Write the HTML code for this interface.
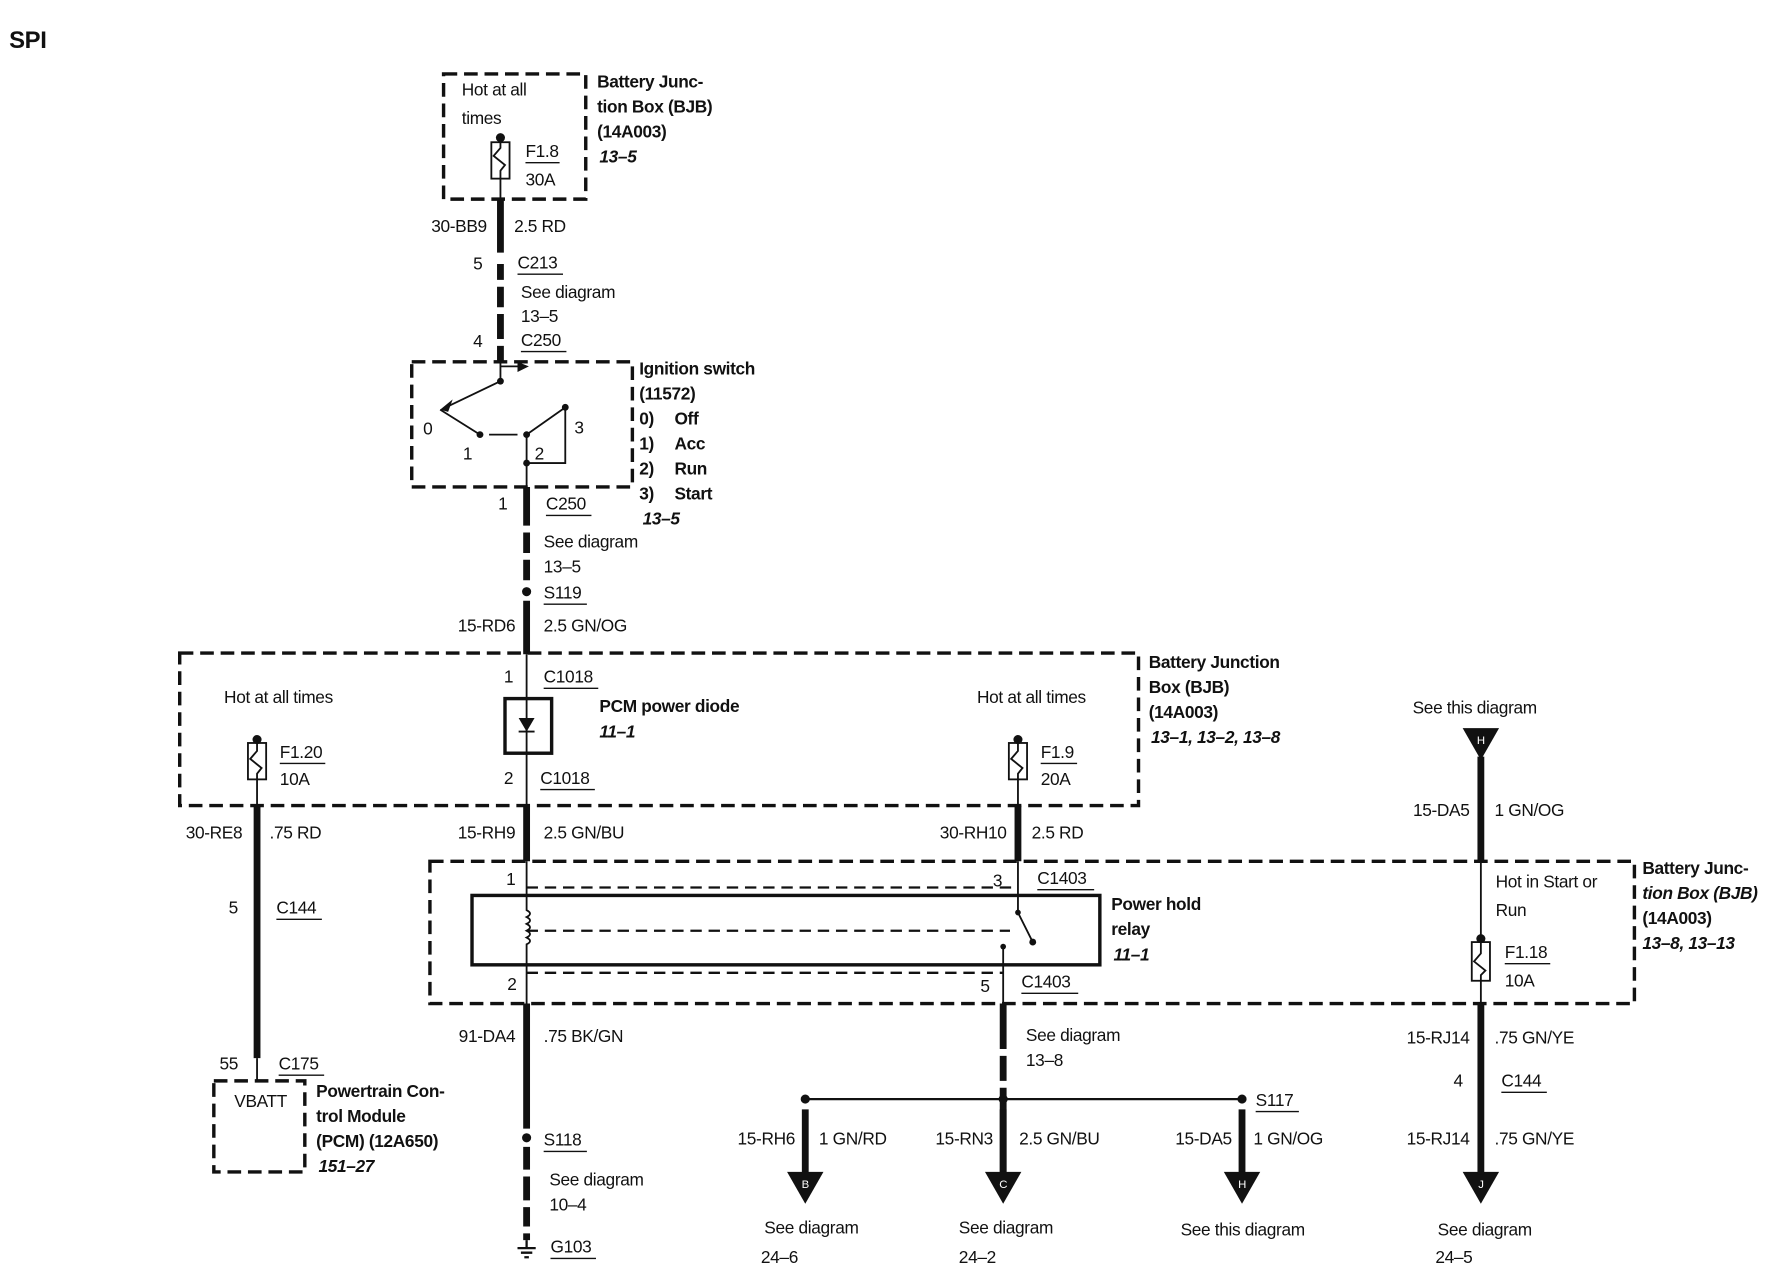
<!DOCTYPE html>
<html><head><meta charset="utf-8"><style>
html,body{margin:0;padding:0;background:#fff;}
svg{display:block;}
text{font-family:"Liberation Sans",sans-serif;font-size:15.2px;fill:#111;letter-spacing:-0.3px;}
.b{font-weight:bold;}
.i{font-weight:bold;font-style:italic;}
.r{text-anchor:end;}
.d{fill:none;stroke:#111;stroke-width:3;stroke-dasharray:12,6;}
.t{stroke:#111;stroke-width:6;fill:none;}
.n{stroke:#111;stroke-width:1.6;fill:none;}
.u{stroke:#111;stroke-width:1.2;}
</style></head><body>
<svg width="1780" height="1280" viewBox="0 0 1565 1125" preserveAspectRatio="none" xmlns="http://www.w3.org/2000/svg">
<rect width="1565" height="1125" fill="#fff"/>
<text x="8" y="42" class="b" style="font-size:21px">SPI</text>

<!-- BJB top -->
<rect x="390" y="65" width="125" height="110" class="d"/>
<text x="406" y="84">Hot at all</text><text x="406" y="109">times</text>
<circle cx="440" cy="121" r="4" fill="#111"/>
<rect x="432" y="125" width="16" height="32" class="n"/>
<path d="M440 121 V130 L434 137 L444 145 L440 150 V175" class="n"/>
<text x="462" y="138">F1.8</text><line x1="462" y1="143" x2="492" y2="143" class="u"/>
<text x="462" y="163">30A</text>
<text x="525" y="77" class="b">Battery Junc-</text><text x="525" y="99" class="b">tion Box (BJB)</text>
<text x="525" y="121" class="b">(14A003)</text><text x="527" y="143" class="i">13–5</text>

<path d="M440 175 V222 M440 232 V246 M440 252 V270 M440 276 V298 M440 304 V318" class="t"/>
<text x="428" y="204" class="r">30-BB9</text><text x="452" y="204">2.5 RD</text>
<text x="416" y="237">5</text><text x="455" y="236">C213</text><line x1="455" y1="241" x2="495" y2="241" class="u"/>
<text x="458" y="262">See diagram</text><text x="458" y="283">13–5</text>
<text x="416" y="305">4</text><text x="458" y="304">C250</text><line x1="458" y1="309" x2="498" y2="309" class="u"/>

<!-- Ignition switch -->
<rect x="362" y="318" width="194" height="110" class="d"/>
<g fill="#111">
<circle cx="440" cy="335" r="3"/><circle cx="422" cy="382" r="3"/><circle cx="463" cy="382" r="3"/><circle cx="497" cy="358" r="3"/><circle cx="463" cy="407" r="3"/>
<path d="M455 318 L465 322 L455 327Z"/><path d="M387 360 L398 351 L394 362Z"/>
</g>
<path d="M440 322 H458 M440 318 V335 L390 359 M387 360 L422 382 M430 382 H455 M463 382 L497 358 V407 H463 M463 382 V428" class="n"/>
<text x="372" y="382">0</text><text x="407" y="404">1</text><text x="470" y="404">2</text><text x="505" y="381">3</text>
<text x="562" y="329" class="b">Ignition switch</text><text x="562" y="351" class="b">(11572)</text>
<text x="562" y="373" class="b">0)</text><text x="593" y="373" class="b">Off</text>
<text x="562" y="395" class="b">1)</text><text x="593" y="395" class="b">Acc</text>
<text x="562" y="417" class="b">2)</text><text x="593" y="417" class="b">Run</text>
<text x="562" y="439" class="b">3)</text><text x="593" y="439" class="b">Start</text>
<text x="565" y="461" class="i">13–5</text>

<path d="M463 428 V462 M463 468 V486 M463 492 V510 M463 528 V575" class="t"/>
<circle cx="463" cy="520" r="4" fill="#111"/>
<text x="438" y="448">1</text><text x="480" y="448">C250</text><line x1="480" y1="453" x2="520" y2="453" class="u"/>
<text x="478" y="481">See diagram</text><text x="478" y="503">13–5</text>
<text x="478" y="526">S119</text><line x1="478" y1="531" x2="516" y2="531" class="u"/>
<text x="453" y="555" class="r">15-RD6</text><text x="478" y="555">2.5 GN/OG</text>

<!-- BJB middle -->
<rect x="158" y="574" width="843" height="134" class="d"/>
<text x="197" y="618">Hot at all times</text>
<circle cx="226" cy="650" r="4" fill="#111"/>
<rect x="218" y="653" width="16" height="32" class="n"/>
<path d="M226 650 V660 L220 667 L230 675 L226 680 V708" class="n"/>
<text x="246" y="666">F1.20</text><line x1="246" y1="671" x2="286" y2="671" class="u"/><text x="246" y="690">10A</text>
<path d="M463 575 V708" class="n"/>
<rect x="444" y="614" width="41" height="48" style="fill:none;stroke:#111;stroke-width:3"/>
<path d="M456 631 H470 L463 643Z" fill="#111"/><line x1="456" y1="643" x2="470" y2="643" class="n"/>
<text x="443" y="600">1</text><text x="478" y="600">C1018</text><line x1="478" y1="605" x2="526" y2="605" class="u"/>
<text x="443" y="689">2</text><text x="475" y="689">C1018</text><line x1="475" y1="694" x2="523" y2="694" class="u"/>
<text x="527" y="626" class="b">PCM power diode</text><text x="527" y="648" class="i">11–1</text>
<text x="859" y="618">Hot at all times</text>
<circle cx="895" cy="650" r="4" fill="#111"/>
<rect x="887" y="653" width="16" height="32" class="n"/>
<path d="M895 650 V660 L889 667 L899 675 L895 680 V708" class="n"/>
<text x="915" y="666">F1.9</text><line x1="915" y1="671" x2="947" y2="671" class="u"/><text x="915" y="690">20A</text>
<text x="1010" y="587" class="b">Battery Junction</text><text x="1010" y="609" class="b">Box (BJB)</text>
<text x="1010" y="631" class="b">(14A003)</text><text x="1012" y="653" class="i">13–1, 13–2, 13–8</text>

<!-- left PCM wire -->
<path d="M226 708 V930" class="t"/>
<text x="213" y="737" class="r">30-RE8</text><text x="237" y="737">.75 RD</text>
<text x="201" y="803">5</text><text x="243" y="803">C144</text><line x1="243" y1="808" x2="283" y2="808" class="u"/>
<text x="193" y="940">55</text><text x="245" y="940">C175</text><line x1="245" y1="945" x2="285" y2="945" class="u"/>
<path d="M226 930 V950" class="n"/>
<rect x="188" y="950" width="80" height="80" class="d"/>
<text x="206" y="973">VBATT</text>
<text x="278" y="964" class="b">Powertrain Con-</text><text x="278" y="986" class="b">trol Module</text>
<text x="278" y="1008" class="b">(PCM) (12A650)</text><text x="280" y="1030" class="i">151–27</text>

<!-- wires into relay box -->
<path d="M463 708 V757" class="t"/>
<text x="453" y="737" class="r">15-RH9</text><text x="478" y="737">2.5 GN/BU</text>
<path d="M895 708 V757" class="t"/>
<text x="885" y="737" class="r">30-RH10</text><text x="907" y="737">2.5 RD</text>

<!-- relay box -->
<rect x="378" y="757" width="1059" height="125" class="d"/>
<rect x="415" y="787" width="552" height="61" style="fill:none;stroke:#111;stroke-width:3"/>
<path d="M463 780 H895 M463 855 H882" style="stroke:#111;stroke-width:2;stroke-dasharray:10,6"/>
<path d="M463 818 H888" style="stroke:#111;stroke-width:2;stroke-dasharray:10,6"/>
<path d="M463 757 V800 q6 3 0 6 q6 3 0 6 q6 3 0 6 q6 3 0 6 q6 3 0 6 V882" class="n"/>
<path d="M895 757 V802 L908 828" class="n"/>
<circle cx="895" cy="802" r="2.5" fill="#111"/><circle cx="908" cy="828" r="3" fill="#111"/>
<circle cx="882" cy="832" r="2.5" fill="#111"/><path d="M882 832 V882" class="n"/>
<text x="445" y="778">1</text><text x="446" y="870">2</text>
<text x="873" y="779">3</text><text x="912" y="777">C1403</text><line x1="912" y1="782" x2="962" y2="782" class="u"/>
<text x="862" y="872">5</text><text x="898" y="868">C1403</text><line x1="898" y1="873" x2="948" y2="873" class="u"/>
<text x="977" y="800" class="b">Power hold</text><text x="977" y="822" class="b">relay</text><text x="979" y="844" class="i">11–1</text>

<!-- ground wire -->
<path d="M463 882 V992 M463 1008 V1028 M463 1034 V1055 M463 1061 V1078 M463 1084 V1090" class="t"/>
<circle cx="463" cy="1000" r="4" fill="#111"/>
<path d="M463 1090 V1097 M455 1097 H471 M458 1101 H468 M461 1105 H465" class="n" style="stroke-width:2"/>
<text x="453" y="916" class="r">91-DA4</text><text x="478" y="916">.75 BK/GN</text>
<text x="478" y="1007">S118</text><line x1="478" y1="1012" x2="516" y2="1012" class="u"/>
<text x="483" y="1042">See diagram</text><text x="483" y="1064">10–4</text>
<text x="484" y="1101">G103</text><line x1="484" y1="1106" x2="524" y2="1106" class="u"/>

<!-- C branch -->
<path d="M882 882 V922 M882 928 V950 M882 956 V1032" class="t"/>
<path d="M882 975 V1032" class="t"/>
<text x="902" y="915">See diagram</text><text x="902" y="937">13–8</text>
<path d="M708 966 H1092" style="stroke:#111;stroke-width:2"/>
<circle cx="708" cy="966" r="4" fill="#111"/><circle cx="882" cy="966" r="4" fill="#111"/><circle cx="1092" cy="966" r="4" fill="#111"/>
<text x="1104" y="972">S117</text><line x1="1104" y1="977" x2="1142" y2="977" class="u"/>
<path d="M708 975 V1032 M1092 975 V1032" class="t"/>
<g fill="#111">
<path d="M692 1030 H724 L708 1058Z"/><path d="M866 1030 H898 L882 1058Z"/><path d="M1076 1030 H1108 L1092 1058Z"/>
<path d="M1286 1030 H1318 L1302 1058Z"/><path d="M1286 640 H1318 L1302 668Z"/>
</g>
<g text-anchor="middle">
<text x="708" y="1044" style="fill:#fff;font-size:10px">B</text>
<text x="882" y="1044" style="fill:#fff;font-size:10px">C</text>
<text x="1092" y="1044" style="fill:#fff;font-size:10px">H</text>
<text x="1302" y="1044" style="fill:#fff;font-size:10px">J</text>
<text x="1302" y="654" style="fill:#fff;font-size:10px">H</text>
</g>
<text x="699" y="1006" class="r">15-RH6</text><text x="720" y="1006">1 GN/RD</text>
<text x="873" y="1006" class="r">15-RN3</text><text x="896" y="1006">2.5 GN/BU</text>
<text x="1083" y="1006" class="r">15-DA5</text><text x="1102" y="1006">1 GN/OG</text>
<text x="672" y="1084">See diagram</text><text x="669" y="1110">24–6</text>
<text x="843" y="1084">See diagram</text><text x="843" y="1110">24–2</text>
<text x="1038" y="1086">See this diagram</text>
<text x="1264" y="1086">See diagram</text><text x="1262" y="1110">24–5</text>

<!-- right column -->
<text x="1242" y="627">See this diagram</text>
<path d="M1302 665 V757" class="t"/>
<text x="1292" y="717" class="r">15-DA5</text><text x="1314" y="717">1 GN/OG</text>
<path d="M1302 757 V882" class="n"/>
<circle cx="1302" cy="825" r="4" fill="#111"/>
<rect x="1294" y="828" width="16" height="34" style="fill:#fff;stroke:#111;stroke-width:1.6"/>
<path d="M1302 828 V838 L1296 845 L1306 853 L1302 857 V862" class="n"/>
<text x="1315" y="780">Hot in Start or</text><text x="1315" y="805">Run</text>
<text x="1323" y="842">F1.18</text><line x1="1323" y1="847" x2="1363" y2="847" class="u"/><text x="1323" y="867">10A</text>
<path d="M1302 882 V1032" class="t"/>
<text x="1292" y="917" class="r">15-RJ14</text><text x="1314" y="917">.75 GN/YE</text>
<text x="1278" y="955">4</text><text x="1320" y="955">C144</text><line x1="1320" y1="960" x2="1360" y2="960" class="u"/>
<text x="1292" y="1006" class="r">15-RJ14</text><text x="1314" y="1006">.75 GN/YE</text>
<text x="1444" y="768" class="b">Battery Junc-</text><text x="1444" y="790" class="i">tion Box (BJB)</text>
<text x="1444" y="812" class="b">(14A003)</text><text x="1444" y="834" class="i">13–8, 13–13</text>
</svg>
</body></html>
